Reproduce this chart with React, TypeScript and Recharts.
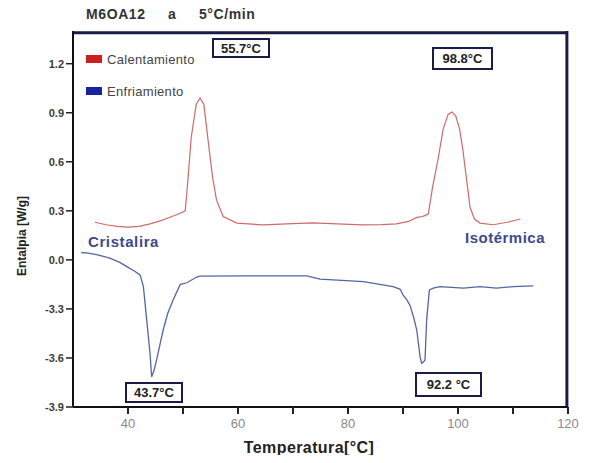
import { LineChart, Line, XAxis, YAxis, CartesianGrid } from 'recharts'

// Calentamiento (heating) curve
const heatTemp = [34, 36, 38, 40, 42, 44, 46, 48, 49.5, 50.4, 50.8, 51.5, 52.4, 53.1, 53.8, 54.6, 55.4, 56.1, 57.3, 59.8, 64.5, 70, 73.6, 78, 82.7, 86, 88.8, 91, 92.5, 93.5, 94.6, 95.4, 96.4, 97.3, 98.2, 98.9, 99.6, 100.3, 100.9, 101.6, 102.2, 103, 104, 106.4, 108.9, 111.3]
const heatFlow = [0.23, 0.215, 0.205, 0.2, 0.205, 0.22, 0.24, 0.265, 0.285, 0.3, 0.45, 0.75, 0.95, 0.99, 0.95, 0.72, 0.5, 0.365, 0.265, 0.225, 0.214, 0.222, 0.226, 0.22, 0.214, 0.216, 0.22, 0.235, 0.26, 0.265, 0.28, 0.45, 0.62, 0.8, 0.89, 0.905, 0.88, 0.8, 0.67, 0.48, 0.32, 0.25, 0.225, 0.215, 0.23, 0.25]

// Enfriamiento (cooling) curve
const coolTemp = [31.5, 32.8, 34.5, 36.7, 38.5, 39.8, 41, 42.2, 42.8, 43.4, 44, 44.3, 44.7, 45.2, 45.8, 46.4, 47.2, 48.2, 49.5, 50.7, 52.5, 53.1, 61.6, 72.5, 74.9, 82.8, 85.8, 88.2, 89.5, 90, 90.7, 91.3, 92, 92.5, 93.1, 93.4, 93.7, 94, 94.3, 94.8, 95.5, 96.7, 101, 104, 107, 110, 113.7]
const coolFlow = [0.045, 0.041, 0.03, 0.01, -0.015, -0.041, -0.065, -0.092, -0.164, -0.367, -0.571, -0.715, -0.68, -0.612, -0.52, -0.429, -0.33, -0.245, -0.15, -0.14, -0.105, -0.1, -0.098, -0.098, -0.118, -0.133, -0.15, -0.164, -0.18, -0.214, -0.245, -0.28, -0.36, -0.429, -0.592, -0.633, -0.625, -0.612, -0.367, -0.184, -0.173, -0.164, -0.173, -0.164, -0.173, -0.164, -0.159]

const xTicks = [40, 50, 60, 70, 80, 90, 100, 110, 120]
const xTickLabels = ['40', '', '60', '', '80', '', '100', '', '120']
const yTicks = [1.2, 0.9, 0.6, 0.3, 0, -0.3, -0.6, -0.9]
const yTickLabels = ['1.2', '0.9', '0.6', '0.3', '0.0', '-3.3', '-3.6', '-3.9']

const seriesNames = ['Calentamiento', 'Enfriamiento']
const seriesColors = ['#d06a6a', '#5565a0']
const swatchColors = ['#cc2020', '#1a249a']

const heatData = heatTemp.map((t, i) => ({ t, v: heatFlow[i] }))
const coolData = coolTemp.map((t, i) => ({ t, v: coolFlow[i] }))

const FONT = '"Liberation Sans", Arial, sans-serif'
const NAVY = '#1b1b48'

function Box({ left, top, w, h, text }: { left: number; top: number; w: number; h: number; text: string }) {
  return (
    <div
      style={{
        position: 'absolute',
        left,
        top,
        width: w,
        height: h,
        boxSizing: 'border-box',
        border: `2px solid ${NAVY}`,
        background: '#fff',
        font: `bold 13px ${FONT}`,
        color: '#222',
        display: 'flex',
        alignItems: 'center',
        justifyContent: 'center',
      }}
    >
      {text}
    </div>
  )
}

// legend sits inside the plot, top-left
function LegendBox() {
  return (
    <div style={{ position: 'absolute', left: 86, top: 51, font: `13px ${FONT}`, color: '#444', letterSpacing: 0.3 }}>
      {seriesNames.map((n, i) => (
        <div key={n} style={{ display: 'flex', alignItems: 'center', height: 16, marginBottom: i === 0 ? 16 : 0 }}>
          <span style={{ display: 'inline-block', width: 16, height: 8, background: swatchColors[i], marginRight: 5 }} />
          {n}
        </div>
      ))}
    </div>
  )
}

export default function App() {
  return (
    <div style={{ position: 'relative', margin: -8, width: 590, height: 463, background: '#fff', fontFamily: FONT }}>
      <div style={{ position: 'absolute', left: 0, top: 0 }}>
        <LineChart width={590} height={463} margin={{ top: 31, right: 22, bottom: 26, left: 0 }}>
          {/* frame: top and right edges of the plot */}
          <CartesianGrid
            horizontalValues={[1.39]}
            verticalValues={[119.8]}
            stroke={NAVY}
            strokeWidth={3}
            strokeDasharray="0"
            fill="none"
          />
          <XAxis
            type="number"
            dataKey="t"
            domain={[30, 120]}
            ticks={xTicks}
            tickFormatter={(v) => xTickLabels[xTicks.indexOf(v)] ?? ''}
            tick={{ fill: '#8a8a8a', fontSize: 13, fontFamily: FONT }}
            tickSize={7}
            tickMargin={5}
            height={30}
            axisLine={{ stroke: '#111', strokeWidth: 2 }}
            tickLine={{ stroke: '#222', strokeWidth: 2 }}
            allowDataOverflow
          />
          <YAxis
            type="number"
            domain={[-0.9, 1.4]}
            ticks={yTicks}
            tickFormatter={(v) => yTickLabels[yTicks.indexOf(v)] ?? ''}
            tick={{ fill: '#3a3a3a', fontSize: 11, fontWeight: 'bold', fontFamily: FONT }}
            tickSize={7}
            width={73}
            axisLine={{ stroke: '#111', strokeWidth: 2 }}
            tickLine={{ stroke: '#222', strokeWidth: 1.5 }}
            allowDataOverflow
          />
          <Line
            data={heatData}
            dataKey="v"
            name={seriesNames[0]}
            type="linear"
            stroke={seriesColors[0]}
            strokeWidth={1.2}
            dot={false}
            isAnimationActive={false}
          />
          <Line
            data={coolData}
            dataKey="v"
            name={seriesNames[1]}
            type="linear"
            stroke={seriesColors[1]}
            strokeWidth={1.3}
            dot={false}
            isAnimationActive={false}
          />
        </LineChart>
      </div>

      <LegendBox />
      <div style={{ position: 'absolute', left: 86, top: 6, font: `bold 14px ${FONT}`, color: '#333', whiteSpace: 'pre', letterSpacing: 0.6 }}>
        {'M6OA12     a     5°C/min'}
      </div>
      <div
        style={{
          position: 'absolute',
          left: 22,
          top: 236,
          transform: 'translate(-50%, -50%) rotate(-90deg)',
          font: `bold 12px ${FONT}`,
          color: '#222',
          whiteSpace: 'nowrap',
        }}
      >
        Entalpia [W/g]
      </div>
      <div
        style={{
          position: 'absolute',
          left: 309,
          top: 448,
          transform: 'translate(-50%, -50%)',
          font: `bold 16px ${FONT}`,
          color: '#222',
          whiteSpace: 'nowrap',
          letterSpacing: 0.4,
        }}
      >
        Temperatura[°C]
      </div>
      <div style={{ position: 'absolute', left: 88, top: 233, font: `bold 15px ${FONT}`, color: '#3c4a8c', letterSpacing: 0.6 }}>Cristalira</div>
      <div style={{ position: 'absolute', left: 465, top: 229, font: `bold 15px ${FONT}`, color: '#3c4a8c', letterSpacing: 0.5 }}>Isotérmica</div>

      <Box left={212} top={38} w={58} h={20} text="55.7°C" />
      <Box left={432} top={47} w={61} h={23} text="98.8°C" />
      <Box left={125} top={382} w={58} h={21} text="43.7°C" />
      <Box left={415} top={372} w={67} h={25} text="92.2 °C" />
    </div>
  )
}
